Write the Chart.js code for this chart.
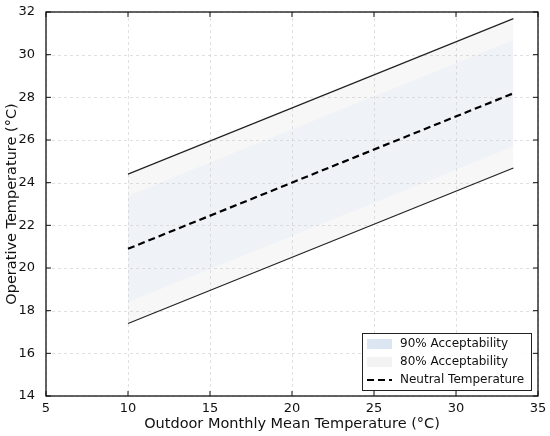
<!DOCTYPE html>
<html><head><meta charset="utf-8">
<script src="https://cdn.jsdelivr.net/npm/chart.js@4"></script>
<style>html,body{margin:0;padding:0;background:#fff}#wrap{width:550px;height:436px}</style>
</head><body><div id="wrap"><canvas id="c" width="550" height="436"></canvas></div>
<script>
const xPoints = [10, 33.5];
const neutralTemp = [20.9, 28.19];
const upper80 = [24.4, 31.69];
const lower80 = [17.4, 24.69];
const upper90 = [23.4, 30.69];
const lower90 = [18.4, 25.69];
const xTicks = [5, 10, 15, 20, 25, 30, 35];
const yTicks = [14, 16, 18, 20, 22, 24, 26, 28, 30, 32];
const legendLabels = ['90% Acceptability', '80% Acceptability', 'Neutral Temperature'];

const pts = arr => xPoints.map((x, i) => ({x: x, y: arr[i]}));
const FONT = "'DejaVu Sans', sans-serif";

const framePlugin = {
  id: 'frame',
  beforeDatasetsDraw(chart) {
    const {ctx, chartArea: a, scales: {x, y}} = chart;
    ctx.save();
    ctx.strokeStyle = 'rgba(200,200,200,0.7)';
    ctx.lineWidth = 0.8;
    ctx.setLineDash([3, 3]);
    xTicks.forEach(v => { const px = Math.round(x.getPixelForValue(v)) + 0.5; ctx.beginPath(); ctx.moveTo(px, a.top); ctx.lineTo(px, a.bottom); ctx.stroke(); });
    yTicks.forEach(v => { const py = Math.round(y.getPixelForValue(v)) + 0.5; ctx.beginPath(); ctx.moveTo(a.left, py); ctx.lineTo(a.right, py); ctx.stroke(); });
    ctx.restore();
  },
  afterDraw(chart) {
    const {ctx, chartArea: a, scales: {x, y}} = chart;
    ctx.save();
    ctx.strokeStyle = '#111';
    ctx.lineWidth = 1.3;
    ctx.setLineDash([]);
    ctx.strokeRect(a.left, a.top, a.right - a.left, a.bottom - a.top);
    ctx.lineWidth = 1;
    const L = 5;
    xTicks.forEach(v => { const px = x.getPixelForValue(v);
      ctx.beginPath(); ctx.moveTo(px, a.bottom); ctx.lineTo(px, a.bottom - L); ctx.moveTo(px, a.top); ctx.lineTo(px, a.top + L); ctx.stroke(); });
    yTicks.forEach(v => { const py = y.getPixelForValue(v);
      ctx.beginPath(); ctx.moveTo(a.left, py); ctx.lineTo(a.left + L, py); ctx.moveTo(a.right, py); ctx.lineTo(a.right - L, py); ctx.stroke(); });
    // legend
    const bx = 362, by = 333, bw = 169, bh = 57;
    ctx.fillStyle = 'rgba(255,255,255,0.9)';
    ctx.fillRect(bx, by, bw, bh);
    ctx.strokeStyle = '#222';
    ctx.lineWidth = 1;
    ctx.strokeRect(bx + 0.5, by + 0.5, bw, bh);
    const rows = [by + 11, by + 29, by + 47];
    ctx.fillStyle = '#dce6f2';
    ctx.fillRect(bx + 5, rows[0] - 5, 25, 10);
    ctx.fillStyle = '#f3f3f3';
    ctx.fillRect(bx + 5, rows[1] - 5, 25, 10);
    ctx.strokeStyle = '#000';
    ctx.lineWidth = 2;
    ctx.setLineDash([7, 4]);
    ctx.beginPath(); ctx.moveTo(bx + 5, rows[2]); ctx.lineTo(bx + 30, rows[2]); ctx.stroke();
    ctx.setLineDash([]);
    ctx.fillStyle = '#111';
    ctx.font = '12px ' + FONT;
    ctx.textBaseline = 'middle';
    ctx.textAlign = 'left';
    legendLabels.forEach((t, i) => ctx.fillText(t, bx + 38, rows[i]));
    ctx.restore();
  }
};

new Chart(document.getElementById('c'), {
  type: 'line',
  data: {
    datasets: [
      {label: 'Neutral Temperature', data: pts(neutralTemp), borderColor: '#000', borderWidth: 2.2, borderDash: [7, 4], pointRadius: 0, fill: false},
      {label: '90% upper', data: pts(upper90), borderWidth: 0, borderColor: 'rgba(0,0,0,0)', backgroundColor: 'rgb(239,243,247)', pointRadius: 0, fill: '+1'},
      {label: '90% lower', data: pts(lower90), borderWidth: 0, borderColor: 'rgba(0,0,0,0)', pointRadius: 0, fill: false},
      {label: '80% upper', data: pts(upper80), borderColor: '#222', borderWidth: 1.2, backgroundColor: 'rgb(247,247,247)', pointRadius: 0, fill: '+1'},
      {label: '80% lower', data: pts(lower80), borderColor: '#222', borderWidth: 1.2, pointRadius: 0, fill: false}
    ]
  },
  options: {
    responsive: false,
    animation: false,
    devicePixelRatio: 1,
    layout: {padding: {left: 0, right: 12, top: 12, bottom: 0}},
    plugins: {legend: {display: false}, tooltip: {enabled: false}, filler: {drawTime: 'beforeDatasetsDraw'}},
    scales: {
      x: {
        type: 'linear', min: 5, max: 35,
        afterBuildTicks: s => { s.ticks = xTicks.map(v => ({value: v})); },
        afterFit: s => { s.height = 40; },
        grid: {display: false}, border: {display: false},
        ticks: {color: '#111', font: {family: FONT, size: 13}, padding: -3, maxRotation: 0},
        title: {display: true, text: 'Outdoor Monthly Mean Temperature (°C)', color: '#111', font: {family: FONT, size: 14.5}, padding: {top: 0, bottom: 3}}
      },
      y: {
        type: 'linear', min: 14, max: 32,
        afterBuildTicks: s => { s.ticks = yTicks.map(v => ({value: v})); },
        afterFit: s => { s.width = 46; },
        grid: {display: false}, border: {display: false},
        ticks: {color: '#111', font: {family: FONT, size: 13}, padding: 3},
        title: {display: true, text: 'Operative Temperature (°C)', color: '#111', font: {family: FONT, size: 14.5}, padding: {top: 4, bottom: 0}}
      }
    }
  },
  plugins: [framePlugin]
});
</script></body></html>
